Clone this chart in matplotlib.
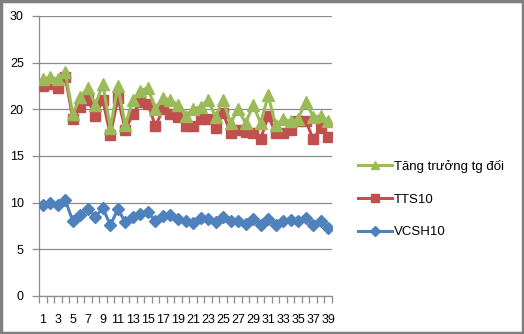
import matplotlib.pyplot as plt
from matplotlib.patches import Rectangle

plt.rcParams['font.family'] = ['Liberation Sans', 'DejaVu Sans']

# Series values for periods 1..39
tang_truong = [23.2, 23.5, 23.2, 24.0, 19.5, 21.3, 22.3, 20.5, 22.7, 18.0,
               22.5, 18.3, 21.0, 22.0, 22.3, 20.0, 21.2, 21.0, 20.5, 19.3,
               20.0, 20.3, 21.0, 19.2, 21.0, 18.5, 20.0, 18.5, 20.5, 18.5,
               21.5, 18.3, 19.0, 18.7, 19.0, 20.8, 19.2, 19.3, 18.8]
tts10 = [22.5, 22.7, 22.3, 23.5, 19.0, 20.3, 21.0, 19.3, 21.0, 17.2,
         21.2, 17.8, 19.5, 20.8, 20.6, 18.2, 20.0, 19.5, 19.2, 18.2,
         18.2, 19.0, 19.0, 18.0, 19.6, 17.5, 17.8, 17.6, 17.5, 16.8,
         19.3, 17.5, 17.5, 17.8, 18.7, 18.8, 16.8, 18.0, 17.0]
vcsh10 = [9.7, 10.0, 9.7, 10.3, 8.0, 8.7, 9.3, 8.5, 9.4, 7.6,
          9.3, 7.9, 8.5, 8.8, 9.0, 8.0, 8.6, 8.7, 8.2, 8.0,
          7.8, 8.4, 8.2, 7.9, 8.5, 8.0, 8.0, 7.7, 8.3, 7.6,
          8.3, 7.6, 8.0, 8.1, 8.0, 8.4, 7.6, 8.0, 7.3]
periods = list(range(1, len(vcsh10) + 1))
labels = ["Tăng trưởng tg đối", "TTS10", "VCSH10"]

fig = plt.figure(figsize=(5.24, 3.34), dpi=100)
ax = fig.add_axes([39 / 524, 38 / 334, 293 / 524, 280 / 334])

l_blue, = ax.plot(periods, vcsh10, color='#4F81BD', marker='D', markersize=6,
                  linewidth=2.2, zorder=3)
l_red, = ax.plot(periods, tts10, color='#C0504D', marker='s', markersize=7,
                 linewidth=2.2, zorder=4)
l_green, = ax.plot(periods, tang_truong, color='#9BBB59', marker='^',
                   markersize=8, linewidth=2.2, zorder=5)

ax.set_xlim(0.5, len(periods) + 0.5)
ax.set_ylim(0, 30)
ax.set_yticks(range(0, 31, 5))
ax.yaxis.grid(True, color='#8C8C8C', linewidth=0.9)
ax.set_axisbelow(True)

# category boundary ticks, labels on every other period
ax.set_xticks([p + 0.5 for p in range(0, len(periods) + 1)])
ax.set_xticklabels([])
ax.set_xticks(periods[::2], minor=True)
ax.set_xticklabels([str(p) for p in periods[::2]], minor=True)
ax.tick_params(axis='x', which='major', length=5, color='#8C8C8C', width=0.9)
ax.tick_params(axis='x', which='minor', length=0, pad=13, labelsize=9)
ax.tick_params(axis='y', length=5, color='#8C8C8C', width=0.9, labelsize=9,
               pad=6)

for side in ['top', 'right']:
    ax.spines[side].set_visible(False)
for side in ['left', 'bottom']:
    ax.spines[side].set_color('#8C8C8C')
    ax.spines[side].set_linewidth(0.9)

fig.legend([l_green, l_red, l_blue], labels, loc='upper left',
           bbox_to_anchor=(346 / 524, 1 - 148 / 334), frameon=False,
           fontsize=9.5, handlelength=2.6, labelspacing=1.55,
           handletextpad=0.1, markerscale=0.8)

fig.patches.append(Rectangle((0.002, 0.003), 0.996, 0.994,
                             transform=fig.transFigure, fill=False,
                             edgecolor='#7F7F7F', linewidth=2.5))

fig.savefig('out.png', dpi=100)
